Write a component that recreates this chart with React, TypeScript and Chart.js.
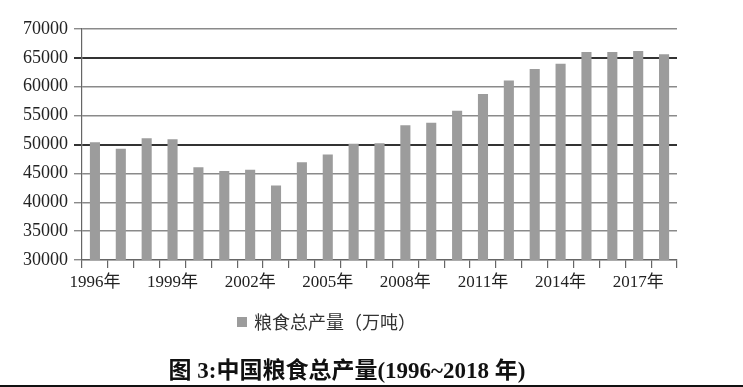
import React, { useEffect, useRef } from "react";
import { Chart, registerables } from "chart.js";

Chart.register(...registerables);

const years: string[] = [
  "1996", "1997", "1998", "1999", "2000", "2001", "2002", "2003", "2004", "2005", "2006", "2007",
  "2008", "2009", "2010", "2011", "2012", "2013", "2014", "2015", "2016", "2017", "2018",
];
const grainOutput: number[] = [
  50400, 49250, 51100, 50900, 46070, 45430, 45610, 42890, 46940, 48270, 50120, 50230,
  53350, 53760, 55840, 58730, 61100, 63060, 63990, 66010, 66010, 66180, 65610,
];
const seriesLabel = "粮食总产量（万吨）";
const captionText = "图 3:中国粮食总产量(1996~2018 年)";
const yTicksMin = 30000;
const yTicksMax = 70000;
const yStep = 5000;
const darkGridValues: number[] = [50000, 65000];

const SERIF = '"Liberation Serif", "Noto Sans CJK SC", serif';
const BAR_COLOR = "#9c9c9c";

const extrasPlugin = {
  id: "extras",
  afterDraw(chart: any) {
    const ctx = chart.ctx;
    ctx.save();
    // legend
    ctx.fillStyle = BAR_COLOR;
    ctx.fillRect(237, 317, 10, 10);
    ctx.fillStyle = "#333";
    ctx.font = '18px "Noto Sans CJK SC", sans-serif';
    ctx.textBaseline = "middle";
    ctx.textAlign = "left";
    ctx.fillText(chart.data.datasets[0].label, 254, 322);
    // caption
    ctx.fillStyle = "#111";
    ctx.font = 'bold 23px "Liberation Serif", "Noto Sans CJK SC", serif';
    ctx.textAlign = "center";
    ctx.fillText(captionText, 347, 372);
    // bottom rule
    ctx.fillStyle = "#111";
    ctx.fillRect(0, 385, 743, 2);
    ctx.restore();
  },
};

export default function App() {
  const ref = useRef<HTMLCanvasElement | null>(null);
  useEffect(() => {
    if (!ref.current) return;
    const chart = new Chart(ref.current, {
      type: "bar",
      data: {
        labels: years,
        datasets: [
          {
            label: seriesLabel,
            data: grainOutput,
            backgroundColor: BAR_COLOR,
            borderWidth: 0,
            barPercentage: 0.39,
            categoryPercentage: 1,
          },
        ],
      },
      options: {
        animation: false,
        responsive: false,
        maintainAspectRatio: false,
        layout: { padding: { left: 0, right: 66, top: 29, bottom: 87 } },
        plugins: {
          legend: { display: false },
          tooltip: { enabled: false },
          title: { display: false },
        },
        scales: {
          x: {
            offset: true,
            afterFit: (s: any) => {
              s.height = 40;
            },
            border: { display: true, color: "#666", width: 1.2 },
            grid: {
              offset: true,
              drawOnChartArea: false,
              drawTicks: true,
              tickLength: 8,
              color: "#666",
              lineWidth: 1.2,
            },
            ticks: {
              autoSkip: false,
              maxRotation: 0,
              minRotation: 0,
              padding: 4,
              color: "#222",
              font: { family: SERIF, size: 17 },
              callback: (_v: any, i: number) => (i % 3 === 0 ? years[i] + "年" : ""),
            },
          },
          y: {
            min: yTicksMin,
            max: yTicksMax,
            afterFit: (s: any) => {
              s.width = 82;
            },
            border: { display: true, color: "#666", width: 1.2 },
            grid: {
              drawTicks: true,
              tickLength: 8,
              color: (c: any) =>
                c.tick && darkGridValues.includes(c.tick.value) ? "#333" : "#8a8a8a",
              lineWidth: (c: any) =>
                c.tick && darkGridValues.includes(c.tick.value) ? 2 : 1.4,
            },
            ticks: {
              stepSize: yStep,
              padding: 6,
              color: "#222",
              font: { family: SERIF, size: 18 },
              callback: (v: any) => String(v),
            },
          },
        },
      },
      plugins: [extrasPlugin],
    });
    return () => chart.destroy();
  }, []);
  return (
    <div style={{ position: "absolute", left: 0, top: 0, width: 743, height: 387, background: "#fff" }}>
      <canvas ref={ref} width={743} height={387} style={{ width: 743, height: 387, display: "block" }} />
    </div>
  );
}
